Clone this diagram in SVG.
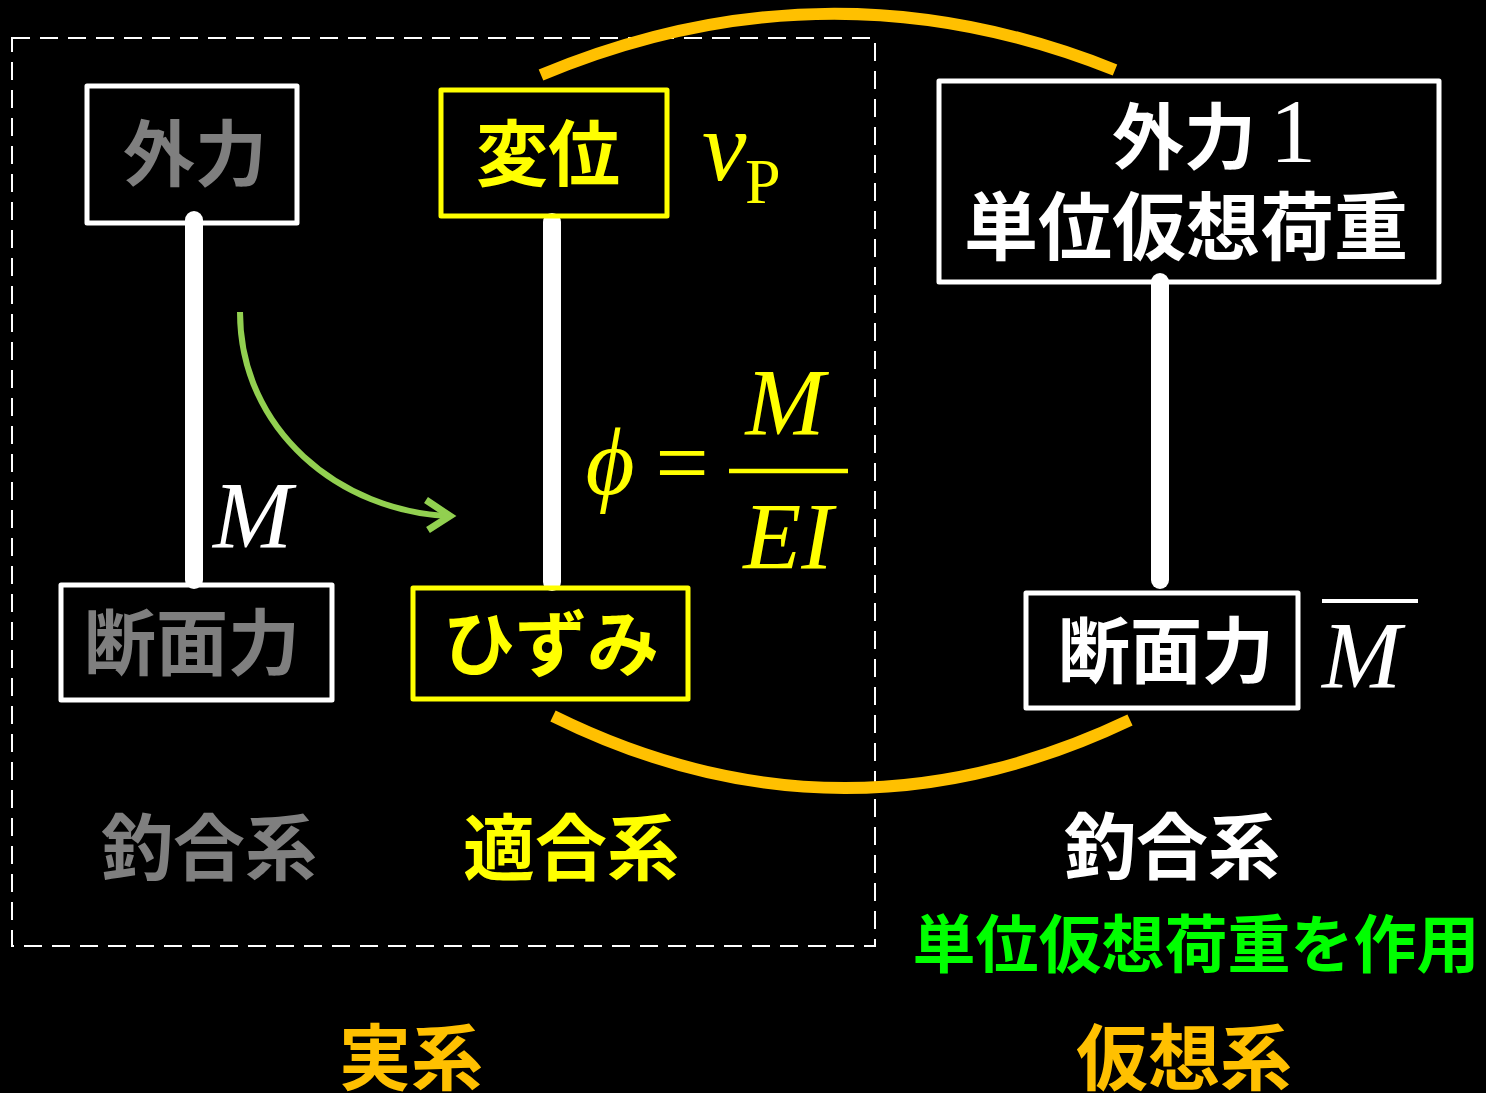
<svg xmlns="http://www.w3.org/2000/svg" width="1486" height="1093" viewBox="0 0 1486 1093">
<style>
.jp{font-family:"Noto Sans CJK JP","Noto Sans CJK SC",sans-serif;font-weight:700;text-anchor:middle;dominant-baseline:central}
.math{font-family:"Liberation Serif","DejaVu Serif",serif;font-style:italic}
.box{fill:none;stroke-width:5;stroke-linejoin:round}
.w{stroke:#FFFFFF}
.y{stroke:#FFFF00}
.bar{stroke:#FFFFFF;stroke-width:18;stroke-linecap:round}
.arc{fill:none;stroke:#FFC000;stroke-width:12}
</style>
<rect x="0" y="0" width="1486" height="1093" fill="#000000"/>
<rect x="12" y="38" width="863" height="908" fill="none" stroke="#FFFFFF" stroke-width="2" stroke-dasharray="18 10"/>

<g id="connectors">
  <line class="bar" x1="194" y1="220" x2="194" y2="580"/>
  <line class="bar" x1="552" y1="222" x2="552" y2="582"/>
  <line class="bar" x1="1160" y1="282" x2="1160" y2="580"/>
  <path d="M240,312 C240,430 340,512 450,516" fill="none" stroke="#92D050" stroke-width="6"/>
  <path d="M426,500 L450,516 L428,530" fill="none" stroke="#92D050" stroke-width="7"/>
  <path class="arc" d="M541,75 Q828,-45 1115,70"/>
  <path class="arc" d="M553,716 Q840,858 1130,720"/>
</g>

<g id="node-gairyoku">
  <rect class="box w" x="87" y="86" width="210" height="137"/>
  <text class="jp" x="195" y="148" font-size="72" fill="#7F7F7F">外力</text>
</g>
<g id="node-hen-i">
  <rect class="box y" x="441" y="90" width="226" height="126"/>
  <text class="jp" x="548" y="148" font-size="72" fill="#FFFF00">変位</text>
</g>
<g id="label-vp">
  <text class="math" x="702" y="180" font-size="100" fill="#FFFF00">v</text>
  <text x="745" y="203" font-size="64" fill="#FFFF00" font-family="Liberation Serif,serif">P</text>
</g>
<g id="label-M-left">
  <text class="math" x="213" y="548" font-size="95" fill="#FFFFFF">M</text>
</g>
<g id="formula">
  <text class="math" x="610" y="494" font-size="95" fill="#FFFF00" text-anchor="middle">ϕ</text>
  <text x="682" y="495" font-size="95" fill="#FFFF00" font-family="Liberation Serif,serif" text-anchor="middle">=</text>
  <line x1="729" y1="471" x2="848" y2="471" stroke="#FFFF00" stroke-width="4.5"/>
  <text class="math" x="785" y="435" font-size="95" fill="#FFFF00" text-anchor="middle">M</text>
  <text class="math" x="788" y="569" font-size="95" fill="#FFFF00" text-anchor="middle">EI</text>
</g>
<g id="node-danmen-left">
  <rect class="box w" x="61" y="585" width="271" height="115"/>
  <text class="jp" x="192" y="637" font-size="72" fill="#7F7F7F">断面力</text>
</g>
<g id="node-hizumi">
  <rect class="box y" x="413" y="588" width="275" height="111"/>
  <text class="jp" x="551" y="638" font-size="72" fill="#FFFF00">ひずみ</text>
</g>
<g id="node-unit-load">
  <rect class="box w" x="939" y="81" width="500" height="201"/>
  <text x="1214" y="131" dominant-baseline="central" text-anchor="middle" fill="#FFFFFF"><tspan font-family="Noto Sans CJK JP,sans-serif" font-weight="700" font-size="72">外力</tspan><tspan font-family="Liberation Serif,serif" font-size="92" dx="14">1</tspan></text>
  <text class="jp" x="1186" y="221" font-size="74" fill="#FFFFFF">単位仮想荷重</text>
</g>
<g id="node-danmen-right">
  <rect class="box w" x="1026" y="593" width="272" height="115"/>
  <text class="jp" x="1166" y="645" font-size="72" fill="#FFFFFF">断面力</text>
</g>
<g id="label-Mbar">
  <line x1="1322" y1="601" x2="1418" y2="601" stroke="#FFFFFF" stroke-width="4"/>
  <text class="math" x="1322" y="688" font-size="95" fill="#FFFFFF">M</text>
</g>

<g id="labels">
  <text class="jp" x="209" y="842" font-size="72" fill="#7F7F7F">釣合系</text>
  <text class="jp" x="571" y="842" font-size="72" fill="#FFFF00">適合系</text>
  <text class="jp" x="1172" y="841" font-size="72" fill="#FFFFFF">釣合系</text>
  <text class="jp" x="1196" y="939" font-size="63" fill="#00FF00">単位仮想荷重を作用</text>
  <text class="jp" x="411" y="1052" font-size="72" fill="#FFC000">実系</text>
  <text class="jp" x="1184" y="1052" font-size="72" fill="#FFC000">仮想系</text>
</g>
</svg>
